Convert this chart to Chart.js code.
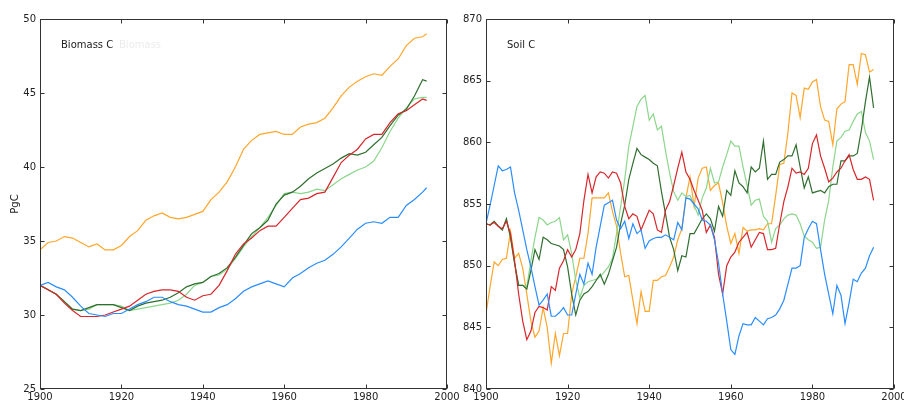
<!DOCTYPE html>
<html>
<head>
<meta charset="utf-8">
<script src="https://cdn.jsdelivr.net/npm/chart.js@4.4.0/dist/chart.umd.min.js"></script>
<style>
    html, body { margin: 0; padding: 0; background: #fff; overflow: hidden; }
    #wrap { position: relative; width: 904px; height: 401px; }
    #biomass { position: absolute; left: 0; top: 0; width: 460px; height: 401px; }
    #soil { position: absolute; left: 460px; top: 0; width: 446px; height: 401px; }
</style>
</head>
<body>
<div id="wrap">
    <canvas id="biomass" width="460" height="401"></canvas>
    <canvas id="soil" width="446" height="401"></canvas>
</div>
<script>
// ---- Biomass C (PgC), read every 2 years ----
const biomassYears = [1900, 1902, 1904, 1906, 1908, 1910, 1912, 1914, 1916, 1918,
    1920, 1922, 1924, 1926, 1928, 1930, 1932, 1934, 1936, 1938,
    1940, 1942, 1944, 1946, 1948, 1950, 1952, 1954, 1956, 1958,
    1960, 1962, 1964, 1966, 1968, 1970, 1972, 1974, 1976, 1978,
    1980, 1982, 1984, 1986, 1988, 1990, 1992, 1994, 1995];
const biomassOrange = [34.4, 34.9, 35.0, 35.3, 35.2, 34.9, 34.6, 34.8, 34.4, 34.4,
    34.7, 35.3, 35.7, 36.4, 36.7, 36.9, 36.6, 36.5, 36.6, 36.8,
    37.0, 37.8, 38.3, 39.0, 40.0, 41.2, 41.8, 42.2, 42.3, 42.4,
    42.2, 42.2, 42.7, 42.9, 43.0, 43.3, 44.0, 44.8, 45.4, 45.8,
    46.1, 46.3, 46.2, 46.8, 47.3, 48.2, 48.7, 48.8, 49.0];
const biomassDarkGreen = [32.0, 31.7, 31.4, 30.9, 30.4, 30.3, 30.5, 30.7, 30.7, 30.7,
    30.5, 30.3, 30.6, 30.8, 30.9, 31.0, 31.2, 31.5, 31.9, 32.1,
    32.2, 32.6, 32.8, 33.2, 33.9, 34.7, 35.5, 35.9, 36.4, 37.5,
    38.1, 38.3, 38.7, 39.2, 39.6, 39.9, 40.2, 40.6, 40.9, 40.8,
    41.0, 41.5, 42.0, 42.8, 43.5, 43.9, 44.8, 45.9, 45.8];
const biomassLightGreen = [32.0, 31.7, 31.4, 30.9, 30.4, 30.3, 30.4, 30.7, 30.7, 30.7,
    30.6, 30.3, 30.4, 30.5, 30.6, 30.7, 30.8, 31.0, 31.4, 32.0,
    32.2, 32.6, 32.7, 33.1, 33.8, 34.6, 35.3, 35.9, 36.6, 37.4,
    38.2, 38.3, 38.2, 38.3, 38.5, 38.4, 38.8, 39.2, 39.5, 39.8,
    40.0, 40.4, 41.3, 42.4, 43.3, 44.0, 44.6, 44.7, 44.7];
const biomassRed = [32.0, 31.7, 31.4, 30.8, 30.3, 29.9, 29.9, 29.9, 30.0, 30.2,
    30.4, 30.6, 31.0, 31.4, 31.6, 31.7, 31.7, 31.6, 31.2, 31.0,
    31.3, 31.4, 32.0, 33.0, 34.1, 34.8, 35.2, 35.7, 36.0, 36.0,
    36.6, 37.2, 37.8, 37.9, 38.2, 38.3, 39.3, 40.3, 40.8, 41.2,
    41.9, 42.2, 42.2, 43.0, 43.6, 43.8, 44.2, 44.6, 44.5];
const biomassBlue = [32.0, 32.2, 31.9, 31.7, 31.2, 30.6, 30.1, 30.0, 29.9, 30.1,
    30.1, 30.4, 30.7, 30.9, 31.2, 31.2, 30.9, 30.7, 30.6, 30.4,
    30.2, 30.2, 30.5, 30.7, 31.1, 31.6, 31.9, 32.1, 32.3, 32.1,
    31.9, 32.5, 32.8, 33.2, 33.5, 33.7, 34.1, 34.6, 35.2, 35.8,
    36.2, 36.3, 36.2, 36.6, 36.6, 37.4, 37.8, 38.3, 38.6];

// ---- Soil C (PgC), yearly ----
const soilYears = [1900, 1901, 1902, 1903, 1904, 1905, 1906, 1907, 1908, 1909,
    1910, 1911, 1912, 1913, 1914, 1915, 1916, 1917, 1918, 1919,
    1920, 1921, 1922, 1923, 1924, 1925, 1926, 1927, 1928, 1929,
    1930, 1931, 1932, 1933, 1934, 1935, 1936, 1937, 1938, 1939,
    1940, 1941, 1942, 1943, 1944, 1945, 1946, 1947, 1948, 1949,
    1950, 1951, 1952, 1953, 1954, 1955, 1956, 1957, 1958, 1959,
    1960, 1961, 1962, 1963, 1964, 1965, 1966, 1967, 1968, 1969,
    1970, 1971, 1972, 1973, 1974, 1975, 1976, 1977, 1978, 1979,
    1980, 1981, 1982, 1983, 1984, 1985, 1986, 1987, 1988, 1989,
    1990, 1991, 1992, 1993, 1994, 1995];
const soilOrange = [846.1, 848.3, 850.3, 850.0, 850.5, 850.6, 852.8, 850.6, 851.0, 849.8,
    847.7, 845.5, 844.2, 844.7, 846.6, 845.0, 842.1, 844.5, 842.7, 844.5,
    844.5, 847.7, 849.1, 850.6, 850.6, 852.6, 855.5, 855.5, 855.5, 855.5,
    855.9, 854.4, 853.2, 851.0, 849.1, 849.2, 847.2, 845.3, 847.9, 846.3,
    846.3, 848.8, 848.8, 849.1, 849.2, 849.9, 850.7, 852.1, 853.0, 855.5,
    857.2, 854.8, 857.1, 857.9, 858.0, 856.1, 856.5, 856.7, 855.1, 853.2,
    851.8, 852.6, 851.0, 853.1, 852.8, 852.9, 852.9, 853.0, 852.9, 853.4,
    853.4, 855.7, 858.2, 858.3, 860.8, 864.0, 863.8, 862.0, 864.4, 864.3,
    864.9, 865.1, 862.9, 861.8, 861.7, 859.8, 862.7, 863.1, 863.3, 866.3,
    866.3, 864.7, 867.2, 867.1, 865.7, 865.9];
const soilDarkGreen = [853.4, 853.3, 853.6, 853.2, 852.9, 853.8, 852.3, 850.2, 848.4, 848.4,
    848.1, 849.6, 851.3, 850.5, 852.3, 852.1, 851.8, 851.7, 851.6, 851.3,
    849.9, 847.7, 846.0, 847.2, 847.7, 847.9, 848.3, 848.8, 849.3, 848.5,
    849.3, 850.4, 851.5, 853.4, 854.9, 857.0, 858.3, 859.5, 859.0, 858.8,
    858.6, 858.3, 858.1, 856.0, 854.2, 852.3, 851.3, 849.6, 850.8, 850.7,
    852.6, 852.6, 853.2, 853.8, 854.2, 853.8, 852.8, 854.8, 854.0, 856.1,
    855.7, 857.7, 856.7, 856.4, 855.9, 858.0, 857.6, 857.9, 860.1, 857.0,
    857.4, 857.4, 858.4, 858.6, 858.9, 858.9, 859.8, 858.0, 856.3, 857.2,
    855.9, 856.0, 856.1, 855.9, 856.4, 856.6, 856.6, 858.5, 858.5, 858.9,
    858.9, 859.1, 861.0, 863.3, 865.3, 862.8];
const soilLightGreen = [853.4, 853.3, 853.6, 853.2, 852.9, 853.8, 852.3, 850.2, 848.4, 848.4,
    848.3, 850.4, 852.3, 853.9, 853.7, 853.3, 853.5, 853.6, 853.9, 852.1,
    852.5, 851.0, 848.8, 847.4, 848.4, 848.7, 848.8, 848.9, 849.1, 849.5,
    849.9, 850.6, 852.6, 854.8, 857.0, 859.7, 861.3, 862.9, 863.5, 863.8,
    861.8, 862.3, 861.0, 861.3, 859.3, 857.5, 856.0, 855.3, 855.9, 855.6,
    855.7, 854.9, 854.1, 855.5, 856.3, 857.9, 856.7, 856.8, 858.0, 859.0,
    860.1, 859.7, 859.7, 858.0, 856.5, 854.9, 855.3, 855.4, 854.0, 853.6,
    851.9, 853.0, 853.3, 853.8, 854.1, 854.2, 854.1, 853.4, 852.4, 852.1,
    851.9, 851.4, 851.5, 853.7, 855.3, 858.0, 860.1, 860.4, 860.9, 861.0,
    861.7, 862.3, 862.5, 860.8, 860.1, 858.6];
const soilRed = [853.4, 853.3, 853.5, 853.2, 853.0, 853.6, 852.6, 850.4, 847.7, 845.5,
    844.0, 844.7, 846.2, 846.7, 846.6, 846.4, 848.3, 848.0, 849.8, 850.4,
    851.3, 850.7, 851.3, 852.6, 855.3, 857.4, 855.9, 857.2, 857.6, 857.5,
    857.1, 857.6, 857.5, 856.7, 854.8, 853.8, 854.2, 854.0, 852.9, 853.7,
    854.5, 854.2, 852.9, 852.7, 854.5, 855.2, 856.5, 857.9, 859.2, 857.6,
    857.0, 856.1, 855.3, 854.5, 852.7, 853.3, 852.3, 849.3, 847.7, 850.0,
    850.7, 851.1, 851.9, 852.3, 852.7, 851.5, 852.1, 852.7, 852.6, 851.3,
    851.3, 851.4, 853.4, 855.2, 856.4, 857.9, 857.5, 857.6, 857.4, 857.9,
    859.9, 860.6, 858.9, 857.9, 856.8, 857.1, 857.6, 857.9, 858.5, 859.0,
    857.8, 857.0, 857.0, 857.2, 857.0, 855.3];
const soilBlue = [853.4, 854.9, 856.5, 858.1, 857.7, 857.8, 858.0, 855.9, 854.5, 852.9,
    851.3, 849.9, 848.3, 846.8, 847.2, 847.7, 845.9, 845.9, 846.2, 846.6,
    846.0, 846.0, 847.7, 849.3, 848.5, 850.2, 849.3, 851.5, 853.2, 854.9,
    855.1, 855.3, 853.7, 853.0, 853.6, 852.2, 853.4, 852.6, 852.9, 851.4,
    852.0, 852.2, 852.3, 852.3, 852.5, 852.3, 852.1, 853.5, 852.9, 855.5,
    855.4, 855.0, 854.6, 853.7, 853.6, 853.3, 852.1, 850.2, 847.7, 845.5,
    843.2, 842.8, 844.3, 845.3, 845.2, 845.2, 845.8, 845.5, 845.2, 845.7,
    845.8, 846.0, 846.5, 847.2, 848.5, 849.8, 849.8, 850.0, 852.3, 853.0,
    853.6, 853.4, 851.3, 849.3, 847.7, 846.1, 848.4, 847.6, 845.3, 847.0,
    848.9, 848.7, 849.4, 849.8, 850.8, 851.5];

const colors = {
    orange: "#ffa62b",
    darkGreen: "#2f6e2f",
    lightGreen: "#8cd68c",
    red: "#d8262b",
    blue: "#2a8dff",
};

Chart.defaults.font.family = '"DejaVu Sans", sans-serif';
Chart.defaults.font.size = 10;
Chart.defaults.color = "#222";

// box around the plot, inward ticks on all sides, and the panel label
const framePlugin = {
    id: "frame",
    afterDraw(chart, args, opts) {
        const { ctx, chartArea: a, scales } = chart;
        const l = Math.round(a.left) + 0.5, r = Math.round(a.right) - 0.5;
        const t = Math.round(a.top) + 0.5, b = Math.round(a.bottom) - 0.5;
        ctx.save();
        ctx.strokeStyle = "#333";
        ctx.lineWidth = 1;
        ctx.beginPath();
        scales.x.ticks.forEach((tk) => {
            const px = Math.round(scales.x.getPixelForValue(tk.value)) + 0.5;
            ctx.moveTo(px, b); ctx.lineTo(px, b - 4);
            ctx.moveTo(px, t); ctx.lineTo(px, t + 4);
        });
        scales.y.ticks.forEach((tk) => {
            const py = Math.round(scales.y.getPixelForValue(tk.value)) + 0.5;
            ctx.moveTo(l, py); ctx.lineTo(l + 4, py);
            ctx.moveTo(r, py); ctx.lineTo(r - 4, py);
        });
        ctx.stroke();
        ctx.strokeRect(l, t, r - l, b - t);

        ctx.font = '10px "DejaVu Sans", sans-serif';
        ctx.textBaseline = "middle";
        ctx.fillStyle = "#222";
        ctx.fillText(opts.label, a.left + 21, a.top + 26.5);
        if (opts.ghost) {
            ctx.fillStyle = "#ececec";
            ctx.fillText(opts.ghost, a.left + 79, a.top + 26.5);
        }
        ctx.restore();
    },
};

function line(years, values, color) {
    return {
        data: values.map((v, i) => ({ x: years[i], y: v })),
        borderColor: color,
        borderWidth: 1.2,
        pointRadius: 0,
        fill: false,
        tension: 0,
    };
}

function panelOptions(cfg) {
    return {
        responsive: false,
        animation: false,
        layout: { padding: { top: 19, right: cfg.padRight, left: 0, bottom: 0 } },
        plugins: {
            legend: { display: false },
            tooltip: { enabled: false },
            frame: { label: cfg.label, ghost: cfg.ghost },
        },
        scales: {
            x: {
                type: "linear",
                min: 1900,
                max: 2000,
                grid: { display: false, drawTicks: false },
                border: { display: false },
                ticks: {
                    stepSize: 20,
                    padding: 2,
                    maxRotation: 0,
                    autoSkip: false,
                    callback: (v) => String(v),
                },
                afterFit: (s) => {
                    s.height = 12;
                    s.paddingLeft = 0;
                    s.paddingRight = 0;
                },
            },
            y: {
                min: cfg.yMin,
                max: cfg.yMax,
                grid: { display: false, drawTicks: false },
                border: { display: false },
                ticks: {
                    stepSize: 5,
                    padding: 4,
                    callback: (v) => String(v),
                },
                title: {
                    display: !!cfg.yTitle,
                    text: cfg.yTitle || "",
                    padding: { top: 9, bottom: 0 },
                },
                afterFit: (s) => {
                    s.width = cfg.yWidth;
                    s.paddingTop = 0;
                    s.paddingBottom = 0;
                },
            },
        },
    };
}

new Chart(document.getElementById("biomass"), {
    type: "line",
    data: {
        datasets: [
            line(biomassYears, biomassBlue, colors.blue),
            line(biomassYears, biomassRed, colors.red),
            line(biomassYears, biomassDarkGreen, colors.darkGreen),
            line(biomassYears, biomassLightGreen, colors.lightGreen),
            line(biomassYears, biomassOrange, colors.orange),
        ],
    },
    options: panelOptions({ yMin: 25, yMax: 50, yWidth: 40, padRight: 13, yTitle: "PgC", label: "Biomass C", ghost: "Biomass" }),
    plugins: [framePlugin],
});

new Chart(document.getElementById("soil"), {
    type: "line",
    data: {
        datasets: [
            line(soilYears, soilBlue, colors.blue),
            line(soilYears, soilRed, colors.red),
            line(soilYears, soilDarkGreen, colors.darkGreen),
            line(soilYears, soilLightGreen, colors.lightGreen),
            line(soilYears, soilOrange, colors.orange),
        ],
    },
    options: panelOptions({ yMin: 840, yMax: 870, yWidth: 26, padRight: 12, label: "Soil C" }),
    plugins: [framePlugin],
});
</script>
</body>
</html>
